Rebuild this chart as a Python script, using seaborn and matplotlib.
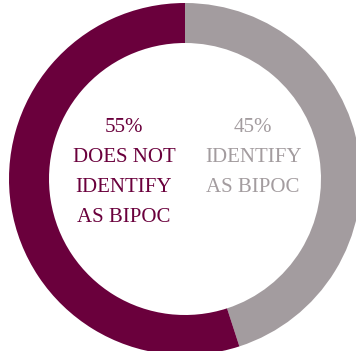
import matplotlib
matplotlib.use("Agg")
import matplotlib.pyplot as plt
import seaborn as sns

categories = ["Identify as BIPOC", "Does not identify as BIPOC"]
values = [45, 55]
colors = ["#A39C9F", "#6A003C"]
label_left = ["55%", "DOES NOT", "IDENTIFY", "AS BIPOC"]
label_right = ["45%", "IDENTIFY", "AS BIPOC"]

sns.set_theme(style="white")
plt.rcParams['font.family'] = ['Liberation Serif', 'DejaVu Serif']

W, H = 356, 351
fig = plt.figure(figsize=(W / 100, H / 100), dpi=100)
ax = fig.add_axes([0, 0, 1, 1])
ax.pie(values, colors=colors, startangle=90, counterclock=False,
       center=(185, H - 179), radius=176,
       wedgeprops=dict(width=40, linewidth=0))
ax.set_xlim(0, W)
ax.set_ylim(0, H)
ax.set_aspect('equal')
ax.axis('off')

ys = [128, 158, 188, 217]
for t, y in zip(label_left, ys):
    ax.text(124, H - y, t, ha='center', va='center', fontsize=15,
            color=colors[1])
for t, y in zip(label_right, ys):
    ax.text(253, H - y, t, ha='center', va='center', fontsize=15,
            color=colors[0])

fig.savefig("out.png", dpi=100)
